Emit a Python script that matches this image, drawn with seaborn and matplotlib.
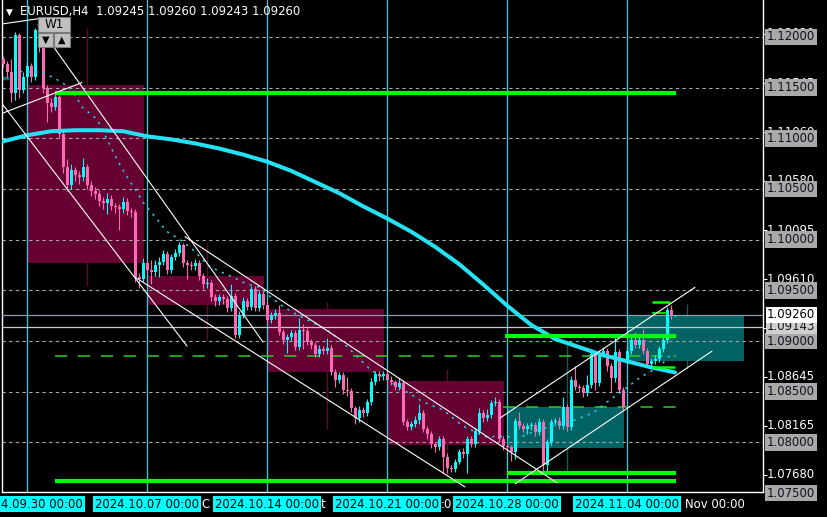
import numpy as np
import pandas as pd
import matplotlib
matplotlib.use("Agg")
import matplotlib.pyplot as plt
from matplotlib.patches import Rectangle
from matplotlib.transforms import blended_transform_factory
import seaborn as sns

# EURUSD H4 candles, 2024.09.27 20:00 .. 2024.11.06 00:00 (index = candle number)
opens = [1.1178, 1.1173, 1.1165, 1.1145, 1.1202, 1.1148, 1.1161, 1.1171, 1.1161, 1.1207,
         1.1190, 1.1150, 1.1135, 1.1131, 1.1141, 1.1104, 1.1072, 1.1054, 1.1069, 1.1064,
         1.1062, 1.1072, 1.1054, 1.1048, 1.1045, 1.1038, 1.1036, 1.1040, 1.1033, 1.1032,
         1.1030, 1.1037, 1.1028, 1.1027, 1.0963, 1.0961, 1.0977, 1.0970, 1.0968, 1.0975,
         1.0978, 1.0986, 1.0970, 1.0983, 1.0987, 1.0995, 1.0977, 1.0975, 1.0974, 1.0977,
         1.0964, 1.0956, 1.0957, 1.0943, 1.0939, 1.0943, 1.0941, 1.0933, 1.0944, 1.0906,
         1.0926, 1.0939, 1.0934, 1.0951, 1.0933, 1.0946, 1.0936, 1.0921, 1.0926, 1.0928,
         1.0909, 1.0901, 1.0904, 1.0908, 1.0894, 1.0911, 1.0910, 1.0899, 1.0896, 1.0887,
         1.0892, 1.0890, 1.0893, 1.0869, 1.0862, 1.0866, 1.0852, 1.0851, 1.0834, 1.0824,
         1.0832, 1.0829, 1.0840, 1.0860, 1.0867, 1.0865, 1.0867, 1.0862, 1.0860, 1.0855,
         1.0859, 1.0820, 1.0815, 1.0818, 1.0822, 1.0829, 1.0813, 1.0808, 1.0798, 1.0795,
         1.0803, 1.0786, 1.0775, 1.0774, 1.0781, 1.0790, 1.0788, 1.0803, 1.0798, 1.0811,
         1.0829, 1.0824, 1.0827, 1.0839, 1.0840, 1.0803, 1.0796, 1.0795, 1.0790, 1.0821,
         1.0816, 1.0813, 1.0816, 1.0817, 1.0810, 1.0820, 1.0778, 1.0800, 1.0820, 1.0821,
         1.0816, 1.0835, 1.0815, 1.0862, 1.0855, 1.0854, 1.0849, 1.0857, 1.0887, 1.0859,
         1.0887, 1.0890, 1.0875, 1.0863, 1.0889, 1.0852, 1.0880, 1.0890, 1.0901, 1.0896,
         1.0901, 1.0890, 1.0877, 1.0880, 1.0882, 1.0892, 1.0901, 1.0931, 1.09245]
closes = [1.1173, 1.1165, 1.1145, 1.1202, 1.1148, 1.1161, 1.1171, 1.1161, 1.1207, 1.1190,
          1.1150, 1.1135, 1.1131, 1.1141, 1.1104, 1.1072, 1.1054, 1.1069, 1.1064, 1.1062,
          1.1072, 1.1054, 1.1048, 1.1045, 1.1038, 1.1036, 1.1040, 1.1033, 1.1032, 1.1030,
          1.1037, 1.1028, 1.1027, 1.0963, 1.0961, 1.0977, 1.0970, 1.0968, 1.0975, 1.0978,
          1.0986, 1.0970, 1.0983, 1.0987, 1.0995, 1.0977, 1.0975, 1.0974, 1.0977, 1.0964,
          1.0956, 1.0957, 1.0943, 1.0939, 1.0943, 1.0941, 1.0933, 1.0944, 1.0906, 1.0926,
          1.0939, 1.0934, 1.0951, 1.0933, 1.0946, 1.0936, 1.0921, 1.0926, 1.0928, 1.0909,
          1.0901, 1.0904, 1.0908, 1.0894, 1.0911, 1.0910, 1.0899, 1.0896, 1.0887, 1.0892,
          1.0890, 1.0893, 1.0869, 1.0862, 1.0866, 1.0852, 1.0851, 1.0834, 1.0824, 1.0832,
          1.0829, 1.0840, 1.0860, 1.0867, 1.0865, 1.0867, 1.0862, 1.0860, 1.0855, 1.0859,
          1.0820, 1.0815, 1.0818, 1.0822, 1.0829, 1.0813, 1.0808, 1.0798, 1.0795, 1.0803,
          1.0786, 1.0775, 1.0774, 1.0781, 1.0790, 1.0788, 1.0803, 1.0798, 1.0811, 1.0829,
          1.0824, 1.0827, 1.0839, 1.0840, 1.0803, 1.0796, 1.0795, 1.0790, 1.0821, 1.0816,
          1.0813, 1.0816, 1.0817, 1.0810, 1.0820, 1.0778, 1.0800, 1.0820, 1.0821, 1.0816,
          1.0835, 1.0815, 1.0862, 1.0855, 1.0854, 1.0849, 1.0857, 1.0887, 1.0859, 1.0887,
          1.0890, 1.0875, 1.0863, 1.0889, 1.0852, 1.0835, 1.0890, 1.0901, 1.0896, 1.0901,
          1.0890, 1.0877, 1.0880, 1.0882, 1.0892, 1.0901, 1.0931, 1.0925, 1.0926]
highs = [1.1181, 1.1176, 1.1178, 1.1205, 1.1204, 1.1165, 1.1175, 1.1174, 1.1209, 1.1209,
         1.1193, 1.1153, 1.1140, 1.1146, 1.1143, 1.1108, 1.1080, 1.1075, 1.1072, 1.1068,
         1.1081, 1.1075, 1.1058, 1.1052, 1.1049, 1.1042, 1.1046, 1.1044, 1.1036, 1.1035,
         1.1042, 1.1041, 1.1031, 1.1030, 1.0967, 1.0982, 1.0980, 1.0980, 1.0980, 1.0983,
         1.0990, 1.0989, 1.0986, 1.0991, 1.0998, 1.0997, 1.0980, 1.0979, 1.0981, 1.0980,
         1.0967, 1.0962, 1.0960, 1.0946, 1.0946, 1.0946, 1.0944, 1.0956, 1.0947, 1.0930,
         1.0943, 1.0942, 1.0954, 1.0954, 1.0950, 1.0949, 1.0939, 1.0929, 1.0932, 1.0936,
         1.0912, 1.0907, 1.0911, 1.0911, 1.0923, 1.0917, 1.0913, 1.0902, 1.0899, 1.0896,
         1.0895, 1.0903, 1.0896, 1.0872, 1.0869, 1.0869, 1.0864, 1.0854, 1.0836, 1.0836,
         1.0835, 1.0843, 1.0863, 1.0870, 1.0870, 1.0870, 1.0872, 1.0865, 1.0862, 1.0863,
         1.0862, 1.0823, 1.0821, 1.0826, 1.0838, 1.0832, 1.0816, 1.0811, 1.0800, 1.0806,
         1.0806, 1.0789, 1.0778, 1.0784, 1.0793, 1.0794, 1.0806, 1.0806, 1.0814, 1.0834,
         1.0832, 1.0833, 1.0842, 1.0845, 1.0843, 1.0806, 1.0799, 1.0797, 1.0824, 1.0830,
         1.0819, 1.0819, 1.0820, 1.0820, 1.0824, 1.0823, 1.0803, 1.0823, 1.0824, 1.0825,
         1.0845, 1.0838, 1.0865, 1.0875, 1.0858, 1.0857, 1.0866, 1.0890, 1.0890, 1.0891,
         1.0894, 1.0893, 1.0878, 1.0907, 1.0892, 1.0855, 1.0894, 1.0904, 1.0909, 1.0904,
         1.0912, 1.0893, 1.0883, 1.0886, 1.0895, 1.0904, 1.0934, 1.0936, 1.0926]
lows = [1.1170, 1.1160, 1.1136, 1.1138, 1.1140, 1.1145, 1.1152, 1.1156, 1.1158, 1.1185,
        1.1145, 1.1116, 1.1126, 1.1128, 1.1100, 1.1066, 1.1048, 1.1050, 1.1058, 1.1055,
        1.1058, 1.1050, 1.1043, 1.1040, 1.1033, 1.1030, 1.1025, 1.1029, 1.1026, 1.1010,
        1.1026, 1.1024, 1.1022, 1.0958, 1.0952, 1.0958, 1.0966, 1.0956, 1.0964, 1.0963,
        1.0975, 1.0966, 1.0967, 1.0980, 1.0984, 1.0973, 1.0961, 1.0970, 1.0970, 1.0960,
        1.0951, 1.0952, 1.0939, 1.0935, 1.0936, 1.0937, 1.0929, 1.0930, 1.0903, 1.0903,
        1.0923, 1.0931, 1.0931, 1.0930, 1.0930, 1.0932, 1.0918, 1.0918, 1.0922, 1.0906,
        1.0897, 1.0888, 1.0900, 1.0891, 1.0891, 1.0892, 1.0896, 1.0892, 1.0884, 1.0884,
        1.0887, 1.0887, 1.0866, 1.0855, 1.0859, 1.0848, 1.0846, 1.0830, 1.0818, 1.0820,
        1.0825, 1.0826, 1.0837, 1.0857, 1.0861, 1.0862, 1.0858, 1.0857, 1.0852, 1.0852,
        1.0817, 1.0812, 1.0812, 1.0815, 1.0818, 1.0810, 1.0803, 1.0794, 1.0790, 1.0792,
        1.0770, 1.0770, 1.0771, 1.0771, 1.0779, 1.0785, 1.0770, 1.0795, 1.0795, 1.0808,
        1.0820, 1.0821, 1.0824, 1.0836, 1.0800, 1.0792, 1.0790, 1.0782, 1.0784, 1.0813,
        1.0810, 1.0808, 1.0812, 1.0806, 1.0807, 1.0771, 1.0771, 1.0797, 1.0817, 1.0813,
        1.0813, 1.0811, 1.0812, 1.0852, 1.0850, 1.0845, 1.0846, 1.0854, 1.0852, 1.0856,
        1.0884, 1.0870, 1.0850, 1.0860, 1.0849, 1.0832, 1.0877, 1.0887, 1.0893, 1.0893,
        1.0887, 1.0874, 1.0873, 1.0877, 1.0879, 1.0889, 1.0898, 1.0922, 1.09243]

# weekly candles drawn as boxes (first candle index of each week)
week_start = [6, 36, 66, 96, 126, 156]
week_labels = ["4.09.30 00:00", "2024.10.07 00:00", "2024.10.14 00:00",
               "2024.10.21 00:00", "2024.10.28 00:00", "2024.11.04 00:00"]
week_open = [1.1153, 1.0964, 1.0932, 1.0861, 1.0794, 1.0880]
week_close = [1.0977, 1.0936, 1.0869, 1.0797, 1.0835, 1.0926]
week_high = [1.1209, 1.0997, 1.0938, 1.0872, 1.0896, 1.0937]
week_low = [1.0954, 1.0901, 1.0813, 1.0768, 1.0771, 1.0872]

# moving averages
ma_idx = [0, 6, 12, 18, 24, 30, 36, 42, 48, 54, 60, 66, 72, 78, 84, 90, 96, 102, 108,
          114, 120, 126, 132, 138, 144, 150, 156, 162, 168]
ma_vals = [1.1097, 1.1103, 1.1107, 1.1108, 1.1108, 1.1107, 1.1102, 1.1099, 1.1095, 1.1090,
           1.1084, 1.1077, 1.1068, 1.1057, 1.1046, 1.1033, 1.1021, 1.1008, 1.0993, 1.0976,
           1.0956, 1.0935, 1.0916, 1.0902, 1.0894, 1.0886, 1.0880, 1.0874, 1.0869]
dot_idx = [4.25, 10, 13.5, 16.75, 20, 23.5, 26, 28.5, 31, 33.5, 35, 37.5, 41, 44.25, 47.5,
           51.75, 57.5, 61, 64.25, 66.75, 70, 73.5, 77.5, 81, 84.25, 89.25, 91.75, 100, 105,
           110, 115, 121, 123.5, 129.25, 134.25, 141, 147.5, 151.75, 156, 159.25, 164.25, 167.5]
dot_vals = [1.1166, 1.1165, 1.1158, 1.1150, 1.1130, 1.1119, 1.1099, 1.1079, 1.1062, 1.1047,
            1.1037, 1.1025, 1.1008, 1.1000, 1.0990, 1.0973, 1.0963, 1.0956, 1.0953, 1.0944,
            1.0934, 1.0926, 1.0918, 1.0911, 1.0901, 1.0882, 1.0872, 1.0852, 1.0840, 1.0832,
            1.0816, 1.0805, 1.0806, 1.0805, 1.0813, 1.0819, 1.0829, 1.0842, 1.0854, 1.0864,
            1.0875, 1.0889]

# trend lines: (x0, p0, x1, p1)
trend_lines = [(0, 1.1213, 8.75, 1.1218), (0, 1.1125, 19.75, 1.1155),
               (8.75, 1.1212, 65, 1.0899), (0, 1.1133, 46, 1.0895),
               (33, 1.0963, 115.5, 1.0756), (45.5, 1.1003, 138.5, 1.0760),
               (128, 1.0759, 177.25, 1.0890), (124.25, 1.0824, 173, 1.0953)]

# support / resistance levels: (price, x0, x1, width)
green_levels = [(1.1145, 13, 168.25, 3.0), (1.0762, 13, 168.25, 3.0),
                (1.0770, 126, 168.25, 3.0), (1.0905, 125.5, 168.25, 3.0),
                (1.0938, 162.25, 166.75, 1.8), (1.0928, 162.25, 166, 1.2),
                (1.0874, 162.25, 168, 1.8)]
green_dashed = [(1.0885, 13, 168.25), (1.0835, 125, 168.25)]

grid_levels = [1.120, 1.115, 1.110, 1.105, 1.100, 1.095, 1.090, 1.085, 1.080, 1.075]
scale_ticks = [1.12030, 1.11545, 1.11060, 1.10580, 1.10095, 1.09610, 1.09125,
               1.08645, 1.08165, 1.07680]
# scale labels that are not covered by a marker box
scale_labels = [1.12030, 1.11545, 1.11060, 1.10580, 1.10095, 1.09610,
                1.08645, 1.08165, 1.07680]
bid, ask_line = 1.09260, 1.09143

time_ticks = [24.25, 48.25, 72.25, 96.25, 120.25, 144.25, 168.25]
# parts of the time labels that stay visible between the week boxes
time_frag_x = [49.5, 79.5, 109.5, 170.5]
time_frags = ["C", "t", ":0", "Nov 00:00"]

BULL, BEAR = "#00ffff", "#ff69b4"

sns.set_style("dark")
plt.rcParams['font.family'] = ['DejaVu Sans']
plt.rcParams['figure.facecolor'] = 'black'

W, H = 827, 517
fig = plt.figure(figsize=(W / 100, H / 100), dpi=100)
ax = fig.add_axes([2 / W, 25 / H, 761 / W, 492 / H])
ax.set_facecolor('black')
ax.grid(False)
ax.set_xlim(-0.25, 190)
ax.set_ylim(1.075099, 1.123651)

# weekly boxes
for ws, wo, wc, wh, wl in zip(week_start, week_open, week_close, week_high, week_low):
    up = wc >= wo
    fc = "#006262" if up else "#660033"
    lc = "#0d5a5a" if up else "#5e0a2c"
    ax.add_patch(Rectangle((ws, min(wo, wc)), 29.3, abs(wc - wo), facecolor=fc,
                           edgecolor='none', zorder=1))
    ax.vlines(ws + 15, wl, wh, colors=lc, linewidth=1.0, zorder=0.9)

# grid and week separators
for lv in grid_levels:
    ax.axhline(lv, color="#a8a8a8", lw=0.8, ls=(0, (3, 3)), zorder=2)
for ws in week_start:
    ax.axvline(ws, color="#1fd6ec", lw=0.9, zorder=2)

# small leftover from previous weekly box
ax.hlines(1.1160, -0.25, 1.6, colors="#0d6a6a", lw=2.5, zorder=2)

# price lines
ax.axhline(bid, color="#8c9bb0", lw=0.9, zorder=3)
ax.axhline(ask_line, color="#c8c8c8", lw=0.9, zorder=3)

# candles
idx = np.arange(len(closes))
o, c = np.array(opens), np.array(closes)
col = np.where(c >= o, BULL, BEAR)
body = np.where(np.abs(c - o) < 0.00005, 0.00005, c - o)
ax.vlines(idx, lows, highs, colors=col, linewidth=0.8, zorder=5)
ax.bar(idx, body, bottom=o, width=0.75, color=col, linewidth=0, zorder=6)

# moving averages
ma = pd.DataFrame({"i": ma_idx, "p": ma_vals})
sns.lineplot(data=ma, x="i", y="p", color="#24e2f4", linewidth=2.9, ax=ax, zorder=8)
dot = pd.DataFrame({"i": dot_idx, "p": dot_vals})
sns.lineplot(data=dot, x="i", y="p", color="#22d4e6", linewidth=1.1,
             linestyle=(0, (1.5, 3.5)), ax=ax, zorder=7)

# support / resistance
for p, x0, x1, w in green_levels:
    ax.hlines(p, x0, x1, colors="#00ff00", linewidth=w, zorder=9)
for p, x0, x1 in green_dashed:
    ax.hlines(p, x0, x1, colors="#2ccc2c", linewidth=1.1, linestyles=(0, (8, 7)), zorder=4)

# trend lines
for x0, p0, x1, p1 in trend_lines:
    ax.plot([x0, x1], [p0, p1], color="white", lw=0.8, zorder=10)

ax.set_xlabel("")
ax.set_ylabel("")

# axes frame and ticks
for side in ["left", "right", "bottom"]:
    ax.spines[side].set_visible(True)
    ax.spines[side].set_color("white")
    ax.spines[side].set_linewidth(1.0)
ax.spines["top"].set_visible(False)
ax.yaxis.tick_right()
ax.set_yticks(scale_ticks)
ax.set_xticks(time_ticks)
ax.tick_params(axis="both", colors="white", length=3, width=0.8, direction="out",
               labelleft=False, labelright=False, labelbottom=False)

# right price scale
ty = blended_transform_factory(fig.transFigure, ax.transData)
lx = 767 / W
for p in scale_labels:
    ax.text(lx, p, f"{p:.5f}", transform=ty, color="white", fontsize=8.4,
            va="center", ha="left", zorder=20)
for p in grid_levels:
    ax.text(lx, p, f"{p:.5f}", transform=ty, color="#101020", fontsize=8.4,
            va="center", ha="left", zorder=21,
            bbox=dict(boxstyle="square,pad=0.16", fc="#a9a9a9", ec="none"))
ax.text(lx, ask_line, f"{ask_line:.5f}", transform=ty, color="#101020", fontsize=8.4,
        va="center", ha="left", zorder=22,
        bbox=dict(boxstyle="square,pad=0.12", fc="#cfcfcf", ec="none"))
ax.text(lx, bid, f"{bid:.5f}", transform=ty, color="black", fontsize=8.4,
        va="center", ha="left", zorder=23,
        bbox=dict(boxstyle="square,pad=0.12", fc="white", ec="none"))

# time scale
tx = blended_transform_factory(ax.transData, fig.transFigure)
ly = 1 - 504 / H
for t, s in zip(time_frag_x, time_frags):
    ax.text(t, ly, s, transform=tx, color="white", fontsize=8.4,
            va="center", ha="left", zorder=20, clip_on=False)
for k, (ws, s) in enumerate(zip(week_start, week_labels)):
    if k == 0:
        fig.text(1 / W, ly, s, color="black", fontsize=8.4, va="center", ha="left",
                 zorder=21, bbox=dict(boxstyle="square,pad=0.15", fc="#00ffff", ec="none"))
    else:
        ax.text(ws, ly, s, transform=tx, color="black", fontsize=8.4,
                va="center", ha="center", zorder=21, clip_on=False,
                bbox=dict(boxstyle="square,pad=0.15", fc="#00ffff", ec="none"))

# header
fig.text(6 / W, 1 - 12 / H, "\u25BC", color="white", fontsize=6.5, va="center", ha="left")
fig.text(20 / W, 1 - 12 / H, "EURUSD,H4  1.09245 1.09260 1.09243 1.09260",
         color="white", fontsize=8.4, va="center", ha="left")

# W1 widget
def fig_rect(x, y, w, h, fc):
    fig.add_artist(Rectangle((x / W, 1 - (y + h) / H), w / W, h / H, transform=fig.transFigure,
                             facecolor=fc, edgecolor="#7a7a7a", linewidth=0.8, zorder=30))

fig_rect(38, 17, 32, 15, "#c0c0c0")
fig_rect(38, 33, 15, 14, "#c0c0c0")
fig_rect(54, 33, 16, 14, "#c0c0c0")
fig.text(54 / W, 1 - 25 / H, "W1", color="black", fontsize=8.6, ha="center", va="center", zorder=31)
fig.text(45.5 / W, 1 - 40 / H, "\u25BC", color="black", fontsize=7, ha="center", va="center", zorder=31)
fig.text(62 / W, 1 - 40 / H, "\u25B2", color="black", fontsize=7, ha="center", va="center", zorder=31)

fig.savefig("out.png", dpi=100, facecolor="black")
